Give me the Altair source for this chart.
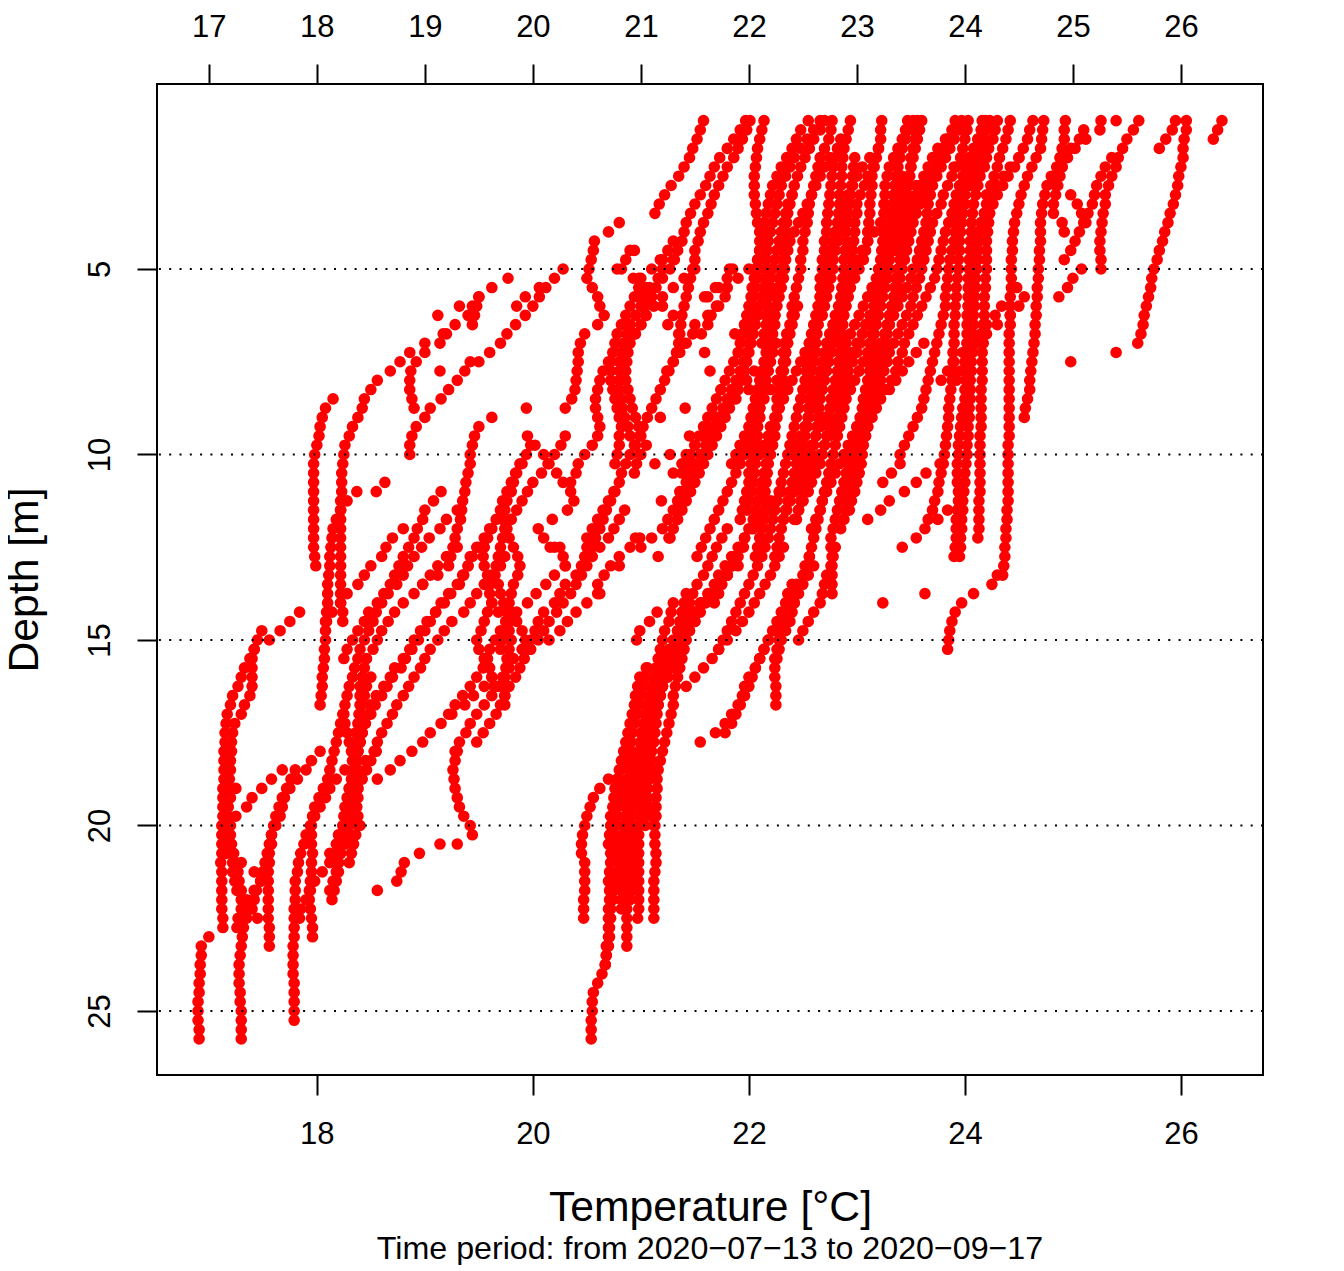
import re
import altair as alt
import pandas as pd

# each profile: (first depth in metres, temperatures every 0.25 m going down)
p01=(1.0,[26.38,26.34,26.30])
p02=(1.0,[26.05,26.05,26.03,26.02,26.02,26.0,25.98,25.97,25.95,25.93,25.9,25.88,25.85,25.83,25.8,25.78,25.75,25.73,25.72,25.7,25.68,25.66,25.65,25.63,25.6,25.4,24.98])
p03=(1.0,[25.95,25.92,25.86,25.8])
p04=(1.0,[25.61,25.56,25.5,25.46,25.42,25.4,25.36,25.33,25.3,25.3,25.28,25.27,25.26,25.25,25.25,25.26,25.26])
p05=(2.0,[25.36,25.3,25.26,25.22,25.2,25.18,25.14,25.1,25.06,25.02,24.98,24.92,25.08,25.0,24.95,24.87])
p06=(1.0,[25.4,25.25,25.12,25.02,24.95,24.9,24.86,24.84,24.98,25.04,25.08,25.12])
p07=(1.0,[25.26,25.1,25.06,24.98,24.92,24.9,24.88,24.86,24.84,24.82,24.82,24.9,24.92])
p08=(1.0,[24.93,24.92,24.92,24.9,24.88,24.85,24.8,24.76,24.74,24.72,24.71,24.7,24.7,24.7,24.69,24.69,24.68,24.68,24.67,24.67,24.66,24.66,24.65,24.65,24.64,24.63,24.62,24.61,24.6,24.6,24.58,24.56,24.55])
p09=(1.0,[24.73,24.72,24.71,24.7,24.66,24.62,24.58,24.55,24.52,24.5,24.48,24.46,24.45,24.44,24.44,24.43,24.43,24.43,24.43,24.42,24.42,24.42,24.42,24.41,24.41,24.41,24.41,24.41,24.41,24.41,24.41,24.41,24.41,24.41,24.41,24.4,24.4,24.4,24.4,24.4,24.4,24.4,24.39,24.39,24.38,24.38,24.37,24.37,24.36,24.3])
p10=(1.0,[24.63,24.6,24.58,24.54,24.5,24.46,24.4,24.35,24.3,24.26,24.23,24.22,24.21,24.2,24.2,24.2,24.2,24.19,24.19,24.18,24.18,24.18,24.17,24.17,24.17,24.16,24.16,24.16,24.16,24.15,24.15,24.15,24.15,24.15,24.14,24.14,24.14,24.14,24.14,24.14,24.14,24.13,24.13,24.13,24.13,24.12])
p11=(1.0,[24.42,24.4,24.38,24.35,24.32,24.3,24.27,24.24,24.2,24.2,24.18,24.16,24.14,24.13,24.12,24.12,24.11,24.1,24.1,24.09,24.09,24.08,24.08,24.07,24.07,24.07,24.06,24.06,24.05,24.05,24.05,24.04,24.04,24.03,24.03,24.02,24.02,24.01,24.0,24.0,23.99,23.98,23.98,23.97,23.97,23.96,23.96,23.95])
p12=(1.0,[24.3,24.28,24.26,24.22,24.2,24.18,24.14,24.12,24.1,24.08,24.07,24.06,24.06,24.05,24.05,24.04,24.04,24.03,24.03,24.03,24.03,24.02,24.02,24.02,24.02,24.02,24.01,24.01,24.01,24.0,24.0,23.98,23.97,23.96,23.95,23.94,23.94,23.93,23.93,23.93,23.94,23.94,23.93,23.92,23.92,23.92,23.91,23.9])
p13=(1.0,[24.23,24.2,24.18,24.14,24.1,24.07,24.05,24.03,24.0,23.99,23.98,23.97,23.96,23.95,23.95,23.94,23.94,23.93,23.92,23.92,23.91,23.91,23.9,23.9,23.9,23.89,23.89,23.89,23.88,23.87,23.86,23.85,23.85,23.84,23.83,23.82,23.81,23.8,23.78,23.76,23.75,23.72,23.7,23.66])
p14=(1.0,[24.19,24.16,24.12,24.08,24.04,24.0,23.98,23.96,23.95,23.94,23.92,23.92,23.91,23.9,23.88,23.86,23.85,23.84,23.83,23.82,23.82,23.8,23.78,23.76,23.74,23.72,23.7,23.68,23.66,23.64,23.62,23.6,23.56,23.52,23.48,23.44,23.4,23.4,23.32,23.24])
p15=(1.0,[24.16,24.15,24.12,24.1,24.07,24.03,24.0,23.95,23.92,23.9,23.88,23.85,23.82,23.8,23.78,23.76,23.74,23.72,23.68,23.64,23.6,23.56,23.52,23.48,23.44,23.42,23.38,23.36,23.32,23.26,23.2,23.16,23.12,23.08,23.05,23.02,23.0,23.0,23.02])
p16=(1.0,[24.03,24.02,24.0,23.98,23.96,23.92,23.88,23.84,23.8,23.78,23.74,23.7,23.68,23.66,23.64,23.62,23.6,23.58,23.55,23.52,23.5,23.46,23.42,23.38,23.34,23.3,23.28,23.25,23.22,23.2,23.18,23.16,23.12,23.1,23.08,23.05,23.03,23.0,22.97,22.94,22.92,22.9,22.9,22.88,22.85])
p17=(1.0,[23.97,23.95,23.9,23.86,23.82,23.78,23.74,23.7,23.68,23.66,23.65,23.64,23.62,23.6,23.58,23.56,23.52,23.5,23.46,23.42,23.38,23.34,23.3,23.28,23.26,23.25,23.24,23.22,23.2,23.18,23.16,23.14,23.12,23.1,23.08,23.06,23.05,23.04,23.02,23.0,22.98,22.95,22.93])
p18=(1.0,[23.91,23.88,23.84,23.8,23.76,23.72,23.68,23.66,23.62,23.58,23.55,23.52,23.5,23.48,23.46,23.44,23.42,23.4,23.38,23.36,23.34,23.32,23.3,23.26,23.22,23.18,23.14,23.12,23.1,23.08,23.06,23.05,23.03,23.0,22.98,22.96,22.94,22.92,22.9,22.88,22.86,22.84,22.82,22.8,22.78,22.76,22.76,22.77,22.77,22.77,22.77,22.77])
p19=(1.0,[23.6,23.58,23.56,23.54,23.52,23.5,23.48,23.46,23.44,23.42,23.4,23.38,23.36,23.34,23.32,23.3,23.28,23.26,23.24,23.22,23.2,23.18,23.16,23.14,23.12,23.1,23.06,23.02,22.98,22.94,22.9,22.88,22.86,22.84,22.82,22.8,22.78,22.76,22.74,22.72,22.7,22.68,22.66,22.64,22.62,22.6,22.58,22.56])
p20=(1.0,[23.56,23.55,23.54,23.52,23.5,23.5,23.49,23.48,23.47,23.46,23.45,23.44,23.43,23.42,23.41,23.4,23.38,23.36,23.35,23.34,23.32,23.3,23.28,23.26,23.24,23.22,23.2,23.18,23.16,23.14,23.12,23.08,23.04,23.0,22.96,22.92,22.88,22.84,22.8,22.76,22.72,22.68,22.66,22.62,22.58])
p21=(1.0,[23.52,23.48,23.45,23.42,23.4,23.38,23.36,23.35,23.34,23.33,23.32,23.32,23.31,23.3,23.3,23.28,23.26,23.24,23.22,23.2,23.16,23.12,23.08,23.05,23.03,23.0,22.96,22.92,22.9,22.88,22.86,22.84,22.82,22.78,22.74,22.7,22.66,22.62,22.58,22.55,22.52,22.5,22.46,22.44])
p22=(1.0,[23.47,23.45,23.42,23.38,23.34,23.3,23.28,23.26,23.26,23.25,23.25,23.24,23.24,23.24,23.23,23.22,23.2,23.18,23.14,23.1,23.06,23.02,22.98,22.94,22.9,22.88,22.86,22.85,22.84,22.82,22.8,22.76,22.7,22.66,22.62,22.58,22.55,22.52,22.48,22.45,22.42,22.38,22.35,22.32])
p23=(1.0,[23.23,23.22,23.22,23.2,23.18,23.16,23.14,23.14,23.13,23.12,23.12,23.11,23.1,23.1,23.08,23.06,23.02,22.98,22.94,22.9,22.86,22.82,22.78,22.75,22.72,22.7,22.68,22.66,22.64,22.62,22.6,22.58,22.55,22.52,22.5,22.48,22.46,22.44,22.42,22.4,22.38,22.36,22.34,22.32,22.3,22.28,22.26,22.24])
p24=(1.0,[22.94,22.92,22.9,22.88,22.87,22.86,22.86,22.85,22.84,22.84,22.83,22.82,22.8,22.78,22.76,22.74,22.72,22.7,22.68,22.66,22.64,22.62,22.6,22.58,22.56,22.55,22.54,22.53,22.52,22.5,22.48,22.46,22.44,22.42,22.4,22.38,22.36,22.34,22.32,22.3,22.28,22.26,22.24,22.22,22.2,22.18,22.15,22.12,22.08,22.04,22.0,21.96,21.92,21.88,21.84,21.8,21.76,21.72])
p25=(1.0,[22.77,22.76,22.74,22.7,22.66,22.64,22.62,22.6,22.58,22.56,22.55,22.54,22.52,22.5,22.5,22.48,22.48,22.46,22.44,22.42,22.4,22.4,22.38,22.36,22.35,22.34,22.33,22.32,22.32,22.31,22.3,22.28,22.26,22.24,22.22,22.2,22.18,22.16,22.14,22.12,22.1,22.08,22.06,22.04,22.0,21.96,21.92,21.88,21.84,21.8,21.75,21.72,21.68])
p26=(1.0,[22.7,22.66,22.6,22.56,22.52,22.48,22.45,22.42,22.4,22.38,22.36,22.35,22.34,22.33,22.32,22.32,22.31,22.3,22.28,22.26,22.25,22.24,22.24,22.22,22.2,22.2,22.18,22.16,22.15,22.14,22.12,22.1,22.08,22.06,22.04,22.0,21.96,21.92,21.88,21.84,21.8,21.76,21.72,21.68,21.64,21.6,21.56,21.52])
p27=(1.0,[22.66,22.6,22.54,22.48,22.42,22.38,22.34,22.3,22.28,22.26,22.24,22.22,22.2,22.18,22.17,22.16,22.16,22.15,22.14,22.12,22.1,22.08,22.06,22.04,22.02,22.0,21.98,21.96,21.93,21.9,21.86,21.82,21.78,21.74,21.7,21.66,21.62,21.58,21.54,21.5,21.46,21.42,21.38,21.34,21.3,21.26])
p28=(1.0,[22.55,22.48,22.44,22.4,22.35,22.3,22.26,22.22,22.2,22.18,22.16,22.14,22.14,22.12,22.1,22.08,22.06,22.05,22.03,22.02,22.0,21.98,21.96,21.94,21.92,21.9,21.86,21.82,21.78,21.74,21.7,21.66,21.62,21.58,21.54,21.5,21.46,21.42,21.38])
p29=(1.0,[22.14,22.12,22.1,22.08,22.07,22.06,22.05,22.05,22.05,22.06,22.07,22.08,22.1,22.1,22.1,22.1,22.09,22.08,22.06,22.04,22.03,22.02,22.01,22.0,22.0,21.98,21.95,21.92,21.88,21.84,21.8,21.76,21.72,21.68,21.64,21.6,21.55,21.5,21.46,21.42,21.38,21.34,21.3,21.25,21.2,21.1,21.0])
p30=(1.0,[22.01,21.98,21.94,21.9,21.86,21.8,21.76,21.72,21.68,21.65,21.62,21.58,21.55,21.53,21.5,21.5,21.48,21.46,21.44,21.42,21.4,21.38,21.37,21.36,21.35,21.33,21.3,21.26,21.22,21.18,21.14,21.1,21.06,21.02,20.99,20.95,20.9,20.86,20.82,20.8,20.76,20.72,20.68,20.65,20.62,20.58,20.55])
p31=(1.0,[21.97,21.92,21.86,21.8,21.73,21.68,21.64,21.6,21.55,21.5,21.46,21.42,21.4,21.38,21.34,21.3,21.27,21.2,21.14,21.08,21.0,20.95,20.9,20.87,20.84,20.82,20.8,20.8,20.8,20.8,20.82,20.83,20.85,20.88,20.9,20.94,20.99])
p32=(1.0,[21.58,21.55,21.52,21.48,21.45,21.4,21.35,21.28,21.22,21.17,21.13])
p33=(3.75,[20.8,20.7,20.57,20.56,20.54,20.52,20.5,20.55,20.6,20.62,20.66,20.6,20.48,20.44,20.42,20.42,20.41,20.4,20.39,20.36,20.3])
p34=(4.5,[20.9,20.86,20.82,20.98,21.05,21.1,21.2,21.04,21.0,20.95,20.9,20.88,20.87,20.86,20.86,20.88,20.9,20.92,20.95,20.98,21.0,21.05,21.0,20.96,20.94])
p35=(4.25,[21.3,21.25,21.2,21.1,21.0,20.98,20.94,20.9,20.86,20.82,20.78,20.76,20.74,20.72,20.72,20.72,20.74,20.76,20.78,20.8,20.82,20.8,20.8,20.78,20.76])
p36=(5.0,[21.5,21.4,21.3,21.2,21.12,21.05,21.0,20.94,20.88,20.82,20.7,20.65,20.62,20.6,20.58,20.58,20.6,20.62,20.6,20.55,20.48,20.42,20.4,20.35])
p37=(9.5,[19.95,20.02,20.1,20.15,20.22,20.28,20.35,20.38,20.32,20.18,20.05,20.1,20.2,20.28,20.3])
p38=(9.5,[20.3,20.26,20.2,20.14,20.08,20.0,19.95,19.9,19.85,19.8,19.76,19.72,19.7,19.68,19.66,19.65,19.68,19.7,19.73,19.76,19.75,19.74,19.72,19.7])
p39=(9.75,[19.98,19.94,19.88,19.84,19.8,19.76,19.72,19.7,19.66,19.62,19.58,19.55,19.54,19.55,19.58,19.6,19.6,19.62,19.68,19.75,19.78,19.8,19.78,19.76,19.75,19.74,19.74,19.74,19.74])
p40=(10.25,[19.9,19.85,19.82,19.8,19.76,19.74,19.72,19.74,19.78,19.82,19.86,19.88,19.86,19.82,19.8,19.78,19.8,19.85,19.9,19.93,19.98])
p41=(11.0,[20.75,20.7,20.65,20.6,20.55,20.5,20.5,20.48,20.45,20.4,20.3,20.25,20.2,20.1,20.05,20.02,19.98,19.9,19.82,19.78,19.72,19.68,19.62,19.55,19.48,19.42,19.38,19.32,19.28])
p42=(9.0,[19.62,19.5,19.46,19.44,19.42,19.42,19.4,19.38,19.37,19.35,19.34,19.33,19.3,19.28,19.26,19.24,19.22,19.12,18.98])
p43=(6.75,[19.2,19.14,19.0,18.92,18.87,18.86,18.86,18.88,18.9])
p44=(5.25,[19.77,19.62,19.5,19.44,19.4,19.28,19.17,19.0,18.86,18.77,18.68,18.56,18.5,18.44,18.42,18.38,18.33,18.3,18.26,18.25,18.24,18.23,18.23,18.23,18.22,18.22,18.22,18.22,18.22,18.22,18.22,18.22,18.22,18.22,18.22,18.22,18.24,18.24])
p45=(8.5,[18.15,18.08,18.05,18.03,18.02,18.0,17.98,17.97,17.97,17.97,17.97,17.97,17.97,17.97,17.97,17.97,17.97,17.98,17.99])
p46=(5.0,[20.28,20.2,20.12,20.06,20.0,19.93,19.84,19.76,19.7,19.6,19.5,19.37,19.3,19.22,19.15,19.05,19.0,18.92,18.88,18.86,18.86])
p47=(5.5,[20.06,19.93,19.85])
p48=(5.75,[19.5,19.48,19.46,19.44])
p49=(6.0,[19.32,19.12])
p50=(11.0,[18.37,18.28,18.22,18.18,18.15,18.14,18.13,18.12,18.12,18.11,18.1,18.1,18.1,18.09,18.09,18.08,18.08,18.07,18.07,18.06,18.05,18.05,18.04,18.03])
p51=(10.75,[18.63,18.55])
p52=(11.0,[19.15,19.08,19.0,18.98,18.93,18.9,18.85,18.8,18.76,18.72,18.68,18.62,18.56,18.48,18.44,18.38,18.33,18.28,18.25])
p53=(12.0,[18.8,18.7,18.64,18.6,18.5,18.44,18.38,18.28,18.22,18.14,18.08])
p54=(11.5,[19.3,19.2,19.14,19.04,18.97,18.9,18.84,18.8,18.74,18.66,18.6,18.55,18.52,18.48,18.44,18.4,18.38,18.35,18.33,18.3,18.28,18.26,18.24,18.22,18.2,18.18,18.16,18.14,18.12,18.1,18.06,18.02,17.98,17.96,17.95,17.95,17.95,17.96,17.95,17.95,17.94,17.93,17.93,17.94,17.95,17.96,17.96])
p55=(12.5,[19.3,19.2,19.12,19.05,18.98,18.9,18.8,18.72,18.66,18.6,18.56,18.52,18.46,18.44,18.42,18.4,18.4,18.4,18.39,18.39,18.4,18.4,18.38,18.36,18.34,18.32,18.3,18.3,18.28,18.26,18.24,18.2,18.18,18.12])
p56=(12.0,[19.6,19.55,19.48,19.44,19.4,19.35,19.3,19.22,19.15,19.1,19.02,18.96,18.9,18.86,18.8,18.72,18.68,18.62,18.55,18.5,18.48,18.44,18.42,18.4,18.38,18.36,18.36,18.37,18.38,18.38,18.36,18.34,18.3,18.28,18.26,18.22,18.18])
p57=(12.25,[19.58,19.5,19.42,19.4,19.36,19.32,19.24,19.18,19.1,19.05,19.0,18.94,18.88,18.82,18.78,18.7,18.65,18.6,18.54,18.5,18.45,18.42,18.4,18.38,18.36,18.34,18.33,18.32,18.3])
p58=(12.75,[19.74,19.7,19.62,19.55,19.48,19.42,19.36,19.25,19.18,19.12,19.05,19.0,18.96,18.9,18.85,18.8,18.74,18.7,18.65,18.6,18.56,18.53,18.5,18.46,18.42,18.38,18.3])
p59=(16.0,[19.62,19.55,19.45,19.37,19.25,19.15,19.05,18.98,18.88,18.77,18.68,18.56])
p60=(14.0,[19.62,19.58,19.55,19.52,19.48,19.5,19.55,19.6,19.62,19.64])
p61=(14.75,[17.49,17.45,17.42,17.38,17.33,17.3,17.27,17.22,17.2,17.17,17.16,17.15,17.15,17.14,17.14,17.14,17.14,17.13,17.13,17.13,17.13,17.12,17.12,17.12,17.12,17.11,17.12,17.12,17.12,17.12,17.12,17.13,17.13,17.0,16.93,16.93,16.92,16.92,16.91,16.91,16.9,16.9,16.9,16.91,16.91])
p62=(14.25,[17.84,17.75,17.66,17.56,17.42,17.4,17.4,17.4,17.4,17.38,17.33,17.3,17.24,17.22,17.21,17.21,17.2,17.2,17.19,17.18,17.17,17.15,17.14,17.15,17.18,17.21,17.23,17.25,17.27,17.28,17.3,17.31,17.32,17.33,17.32,17.31,17.3,17.29,17.28,17.28,17.28,17.29,17.29,17.3,17.3,17.3,17.3])
p63=(18.5,[18.26,18.18,18.12,18.08,18.03,17.98,17.94,17.9,17.88,17.85,17.83,17.82,17.8,17.8,17.8,17.79,17.79,17.79,17.79,17.78,17.78,17.78,17.78,17.79,17.79,17.79,17.79,17.79])
p64=(18.5,[17.8,17.76,17.72,17.68,17.65,17.62,17.6,17.58,17.58,17.56,17.56,17.55,17.55,17.55,17.55,17.55,17.55,17.56,17.56,17.56])
p65=(19.0,[17.25,17.2,17.18,17.18,17.19,17.2,17.2,17.22,17.22,17.22,17.24,17.26,17.3,17.38,17.45])
p66=(18.5,[17.68,17.58,17.49,17.4,17.35,17.25,17.2,17.16,17.16,17.16,17.3,17.42,17.48,17.42,17.35,17.3,17.27,17.26])
p67=(18.0,[18.03,17.95,17.9,17.82,17.75,17.7,17.68,17.66,17.62,17.58,17.56,17.54,17.52,17.5,17.48,17.44,17.42,17.4,17.35,17.3])
p68=(20.0,[18.4,18.3,18.22,18.18,18.12,18.05,17.98,17.94,17.9,17.85,17.84])
p69=(18.0,[18.55,18.45,18.38,18.34,18.3,18.28,18.26,18.25,18.25,18.24,18.24,18.22,18.2,18.2,18.18,18.16,18.14])
p70=(21.75,[18.56])
p71=(20.5,[19.14,18.95,18.81,18.78,18.74])
p72=(13.0,[20.3,20.2,20.12,20.03,19.95,19.85,19.78,19.7,19.65,19.6,19.58,19.54,19.48,19.42,19.35,19.28,19.22])
p73=(18.0,[19.3,19.28,19.26,19.27,19.28,19.3,19.32,19.36,19.42,19.44,19.3])
p74=(11.5,[20.85,20.8,20.75,20.7,20.62,20.55,20.5,20.45,20.4,20.35,20.28,20.22,20.15,20.1,20.05,19.97,19.92,19.88,19.84,19.78,19.74,19.7,19.66,19.6,19.54,19.48])
p75=(12.25,[20.95,20.9,20.8,20.72,20.66,20.6,20.6,20.5,20.4,20.32,20.25,20.15])
p76=(14.25,[21.15,21.08,20.99,20.96])
p77=(21.0,[20.48,20.48,20.48,20.48,20.47,20.47,20.47])
p78=(18.75,[20.7,20.62,20.56,20.53,20.5,20.48,20.46,20.45,20.45])
p79=(12.5,[21.95,21.9,21.84,21.78,21.72,21.66,21.6,21.55,21.5,21.45,21.4,21.36,21.34,21.3,21.25,21.2,21.15,21.1,21.08,21.05,21.03,21.0,20.99,20.96,20.92,20.88,20.84,20.81,20.78,20.76,20.74,20.72,20.72,20.72,20.72,20.71,20.7,20.71,20.71,20.7,20.7,20.7,20.71,20.7,20.68,20.67,20.64,20.6,20.56,20.55,20.55,20.54,20.54,20.54])
p80=(12.0,[21.8,21.75,21.7,21.66,21.62,21.58,21.52,21.48,21.45,21.42,21.38,21.34,21.3,21.26,21.24,21.2,21.18,21.16,21.14,21.12,21.1,21.06,21.04,21.02,20.99,20.98,20.96,20.94,20.92,20.91,20.9,20.88,20.86,20.85,20.82,20.8,20.8,20.78,20.76,20.75,20.74,20.72,20.72,20.71,20.7,20.68,20.68,20.67])
p81=(11.25,[22.2,22.14,22.08,22.02,21.96,21.92,21.88,21.84,21.8,21.72,21.66,21.58,21.52,21.46,21.4,21.36,21.32,21.28,21.24,21.2,21.16,21.12,21.1,21.08,21.06,21.04,21.02,21.0,20.99,20.98,20.96,20.95,20.94,20.92,20.91,20.9,20.9,20.89,20.88,20.88,20.87,20.87,20.87,20.87,20.87,20.87,20.87,20.87,20.87])
p82=(11.0,[22.3,22.25,22.2,22.12,22.04,21.96,21.9,21.84,21.78,21.72,21.68,21.62,21.55,21.5,21.46,21.42,21.38,21.34,21.3,21.26,21.22,21.18,21.15,21.12,21.1,21.08,21.06,21.04,21.04,21.03,21.02,21.0,20.99,20.99,20.98,20.98,20.98,20.98,20.98,20.98,20.98,20.98,20.98,20.98,20.98,20.98,20.97])
p83=(13.0,[21.9,21.8,21.72,21.64,21.56,21.5,21.44,21.4,21.34,21.3,21.26,21.24,21.22,21.2,21.18,21.16,21.14,21.12,21.1,21.09,21.08,21.07,21.06,21.05,21.05,21.06,21.08,21.1,21.12,21.13,21.13,21.14,21.14,21.13,21.12,21.12,21.12,21.12,21.12])
p84=(15.5,[21.2,21.16,21.12,21.1,21.08,21.06,21.04,21.03,21.02,21.0,20.98,20.96,20.94,20.92,20.9,20.88,20.86,20.85,20.84,20.83,20.82,20.82,20.82,20.82,20.82,20.82,20.82,20.82])
p85=(15.75,[21.06,21.04,21.02,21.0,20.98,20.96,20.94,20.92,20.91,20.9,20.9,20.9,20.9,20.9,20.9,20.9,20.9,20.92,20.92,20.92,20.92,20.92,20.92,20.92,20.92,20.9])
p86=(14.0,[21.3,21.28,21.26,21.22,21.2,21.18,21.16,21.14,21.12,21.1,21.08,21.06,21.04,21.02,21.0,21.0,20.98,21.0,21.02,21.03,21.04,21.04,21.04,21.03,21.04])
p87=(13.75,[21.42,21.4,21.38,21.36,21.34,21.32,21.3,21.28,21.25,21.23,21.2,21.18,21.16,21.15,21.14,21.13,21.12,21.1,21.1,21.1,21.08,21.06,21.05])
p88=(14.75,[22.24,22.18,22.14,22.1,22.06,22.0,21.96,21.94,21.9,21.84,21.78,21.69,21.55])
p89=(12.75,[22.56,22.52,22.5,22.44,22.42,22.42,22.4,22.38,22.34,22.3,22.28,22.26,22.24,22.24,22.25,22.25,22.25])
p90=(13.5,[22.4,22.36,22.34,22.3,22.26,22.22,22.18,22.14,22.1,22.06,22.03,22.0,21.96,21.92,21.88,21.84,21.78])
p91=(12.5,[22.32,22.28,22.24,22.2,22.15,22.1,22.05,22.0,21.94,21.88,21.8,21.72,21.66,21.58,21.5,21.42])
p92=(13.0,[22.6,22.55,22.5,22.46,22.42,22.38,22.34,22.3,22.28,22.26,22.24])
p93=(12.5,[22.8,22.78,22.76,22.72,22.7,22.68,22.66,22.6,22.55,22.5,22.46])
p94=(7.75,[22.05,21.98,22.0,21.88,21.8,21.7,21.62,21.58,21.5,21.42,21.38,21.3])
p95=(5.0,[21.85,21.8,21.72,21.62,21.72,21.65,21.62,21.56])
p96=(5.0,[21.2,21.16,21.08,20.98,21.04,21.3,21.25,21.35,21.4,21.36,21.3,21.24])
p99=(2.25,[23.9,23.7,23.55,23.45,23.38,23.3,23.22,23.16,23.1,23.05,23.02,22.98,22.94,22.9,22.87,22.83,22.8,22.78,22.75,22.74,22.72,22.7,22.7,22.68,22.65,22.62,22.58,22.55,22.52,22.48,22.45,22.4])
p100=(1.75,[23.2,23.12,23.05,23.0,22.96,22.92,22.9,22.88,22.86,22.84,22.82,22.8,22.78,22.78,22.76,22.74,22.72,22.7,22.68,22.64,22.6,22.56,22.52,22.48,22.44,22.4,22.36,22.32,22.28,22.24,22.2,22.18,22.14,22.1])
p101=(2.0,[22.75,22.7,22.66,22.62,22.58,22.54,22.5,22.46,22.42,22.38,22.36,22.34,22.33,22.32,22.3,22.28,22.26,22.24,22.22,22.2,22.18,22.16,22.14,22.12,22.1,22.08,22.06,22.04,22.02,22.0,21.96,21.92,21.88,21.84])
p102=(2.25,[23.15,23.1,23.07,23.03,23.0,23.0,22.98,22.98,22.97,22.96,22.95,22.94,22.94,22.93,22.92,22.9,22.88,22.87,22.86,22.85,22.84,22.83,22.82,22.8,22.78,22.76,22.75,22.74,22.74,22.72,22.7,22.68,22.66,22.62,22.58,22.55,22.5,22.46,22.42])
p103=(2.0,[24.5,24.42,24.36,24.3,24.26,24.22,24.18,24.15,24.12,24.1,24.08,24.06,24.05,24.05,24.04,24.04,24.03,24.03,24.03,24.03,24.02,24.02,24.02,24.02,24.01,24.01,24.01])
p104=(1.5,[23.82,23.75,23.7,23.66,23.62,23.58,23.55,23.52,23.5,23.46,23.42,23.38,23.35,23.3,23.3,23.28,23.26,23.24,23.22,23.2,23.18,23.16,23.14,23.12,23.08,23.02,22.96,22.92,22.88,22.86])
p105=(2.5,[23.42,23.4,23.38,23.36,23.34,23.32,23.3,23.28,23.26,23.25,23.24,23.22,23.2,23.18,23.16,23.14,23.1,23.05,23.0,22.95,22.9])
p106=(11.5,[23.84,23.75,23.63,23.55,23.42])
p107=(10.25,[23.77,23.64,23.55,23.44,23.3,23.22,23.1])
p108=(13.25,[24.35,24.25,24.08,23.97,23.91,23.88,23.86,23.85,23.84])
p109=(13.75,[23.63])
p110=(14.0,[23.24])
p111=(2.0,[24.18,24.14,24.1,24.05,24.0,24.0,23.98,23.96,23.95,23.93])
p112=(5.5,[24.48,24.55,24.34,24.28,24.2,24.15,24.1,24.05,24.0,23.96,23.92])
p113=(6.0,[24.5,24.42,24.3,24.2,24.1,23.98,23.9,23.84,23.78])
p114=(7.0,[23.62,23.55,23.48,23.42,23.36,23.3,23.22,23.18,23.14,23.08,23.04,23.02,23.0,22.96])
p115=(6.75,[22.35,22.33,22.32,22.34,22.3,22.26,22.2,22.14,22.1,22.08,22.02,21.98,21.92])
p118=(5.0,[22.0,21.9,21.8,21.78,21.7,21.62,21.5,21.48,21.42])
p119=(16.0,[20.99,20.97,20.95,20.94,20.92,20.9,20.88,20.86,20.84,20.82,20.8,20.78,20.76,20.75,20.74,20.72,20.72,20.71,20.7])
p120=(15.75,[21.05,21.02,21.0,20.98,20.96,20.94,20.92,20.9,20.88,20.86,20.85,20.82,20.8,20.8,20.78,20.78,20.78,20.77,20.76,20.76,20.75])
p121=(14.5,[21.5,21.45,21.42,21.4,21.38,21.36,21.34,21.32,21.3,21.3,21.28,21.26,21.24,21.22,21.2,21.18,21.16,21.15,21.15,21.14,21.14,21.14,21.13])
p122=(5.0,[22.3,22.28,22.27,22.26,22.25,22.24,22.22,22.2,22.2,22.18,22.16,22.15,22.14,22.14,22.12,22.1,22.1,22.08,22.06,22.04,22.03,22.02,22.0,22.0,21.98,21.96,21.94,21.92])
p123=(6.0,[22.45,22.42,22.4,22.38,22.36,22.34,22.32,22.3,22.3,22.28,22.26,22.26,22.25,22.24,22.24,22.22,22.2,22.18,22.17,22.16,22.15,22.15,22.14,22.14,22.12,22.1,22.08,22.06])
p124=(1.5,[22.85,22.82,22.8,22.78,22.77,22.76,22.75,22.74,22.73,22.72,22.72,22.7,22.7,22.68,22.68,22.66,22.66,22.66,22.65,22.64,22.64,22.63,22.62,22.62,22.6,22.58,22.58,22.57,22.56,22.55,22.55,22.54,22.52,22.5,22.48,22.46,22.44,22.42,22.4,22.38])
p125=(2.0,[22.98,22.97,22.96,22.95,22.94,22.93,22.92,22.91,22.9,22.9,22.89,22.88,22.88,22.87,22.86,22.85,22.84,22.83,22.82,22.8,22.78,22.76,22.74,22.72,22.7,22.68,22.66,22.65,22.64,22.63,22.62,22.6,22.58,22.56,22.54,22.52,22.5,22.48])
p126=(7.0,[22.25,22.22,22.2,22.18,22.16,22.14,22.12,22.1,22.1,22.08,22.08,22.08,22.06,22.06,22.05,22.04,22.02,22.0,21.98])
p127=(3.0,[22.4,22.36,22.34,22.32,22.3,22.28,22.26,22.24,22.22,22.2,22.2,22.18,22.18,22.16,22.16,22.14,22.12])
p128=(16.0,[18.5,18.46,18.44,18.42,18.4,18.38,18.36,18.36,18.36,18.37,18.36,18.35,18.35,18.36,18.37,18.38,18.38,18.36,18.34,18.32,18.3])
p129=(17.0,[18.25,18.26,18.28,18.3,18.32,18.33,18.34,18.35,18.34,18.32,18.3,18.28,18.26,18.24,18.22,18.2,18.2,18.18,18.15,18.12])

scatter_temp=[20.94,20.78,20.93,21.04,21.18,21.31,21.59,21.82,21.87,21.96,21.69,21.59,21.64,21.41,21.18,21.45,21.27,21.13,21.36,21.19,20.99,21.16,20.8,20.62,20.25,20.16,19.94,19.14,19.42,21.27]
scatter_depth=[4.5,5.0,5.25,5.75,4.75,4.75,5.75,5.0,6.75,6.5,5.5,7.25,7.75,8.75,9.0,9.5,10.0,10.25,11.0,11.25,12.25,12.75,13.0,13.75,12.5,12.5,8.75,7.75,7.5,12.25]

name_re = re.compile(r"^p\d+$")
rows = []
for name, value in list(globals().items()):
    if name_re.match(name):
        start, temps = value
        for i, temp in enumerate(temps):
            rows.append({"temp": temp, "depth": start + 0.25 * i})
for temp, depth in zip(scatter_temp, scatter_depth):
    rows.append({"temp": temp, "depth": depth})
points = pd.DataFrame(rows)

depth_ticks = [5, 10, 15, 20, 25]
bottom_ticks = [18, 20, 22, 24, 26]
top_ticks = [17, 18, 19, 20, 21, 22, 23, 24, 25, 26]
x_domain = [16.52, 26.76]
y_domain = [0.014, 26.725]
note = ["Time period: from 2020\u221207\u221213 to 2020\u221209\u221217"]
FONT = "Liberation Sans"

y_enc = alt.Y("depth:Q", scale=alt.Scale(domain=y_domain, reverse=True, nice=False, zero=False),
              axis=alt.Axis(values=depth_ticks, title="Depth [m]", grid=False, domain=False,
                            tickSize=20, tickWidth=2, tickColor="black", labelAngle=270,
                            labelAlign="center", labelBaseline="bottom", labelPadding=21,
                            labelFontSize=31, labelColor="black", labelFont=FONT,
                            titleFontSize=42.7, titleFontWeight="normal", titleFont=FONT,
                            titleColor="black", titlePadding=38))
x_scale = alt.Scale(domain=x_domain, nice=False, zero=False)

pts = alt.Chart(points).mark_circle(color="#ff0000", opacity=1, size=135).encode(
    x=alt.X("temp:Q", scale=x_scale,
            axis=alt.Axis(orient="bottom", values=bottom_ticks, title="Temperature [\u00b0C]", grid=False,
                          domain=False, tickSize=20, tickWidth=2, tickColor="black",
                          labelFontSize=31, labelColor="black", labelFont=FONT, labelPadding=24,
                          labelFlush=False, titleFontSize=42.7, titleFontWeight="normal", titleFont=FONT,
                          titleColor="black", titlePadding=37)),
    y=y_enc)

top = alt.Chart(pd.DataFrame({"temp": top_ticks})).mark_point(opacity=0).encode(
    x=alt.X("temp:Q", scale=x_scale,
            axis=alt.Axis(orient="top", values=top_ticks, title=None, grid=False, domain=False,
                          tickSize=20, tickWidth=2, tickColor="black", labelFontSize=31,
                          labelColor="black", labelFont=FONT, labelPadding=21, labelFlush=False)),
    y=alt.value(0))

grid = alt.Chart(pd.DataFrame({"depth": depth_ticks})).mark_rule(
    color="black", strokeWidth=2, strokeDash=[2, 8.3]).encode(y=y_enc)

sub = alt.Chart(pd.DataFrame({"t": note})).mark_text(
    font=FONT, fontSize=32.2, color="black", align="center", baseline="middle").encode(
    text="t:N", x=alt.value(553), y=alt.value(1165))

chart = alt.layer(pts, top, grid, sub).resolve_scale(x="independent").properties(
    width=1106, height=991,
    background="white",
    autosize=alt.AutoSizeParams(type="none"),
    padding={"left": 149, "top": 76, "right": 70, "bottom": 190},
).configure_view(stroke="black", strokeWidth=2)

chart.save("out.html", embed_options={"renderer": "svg", "actions": False})
